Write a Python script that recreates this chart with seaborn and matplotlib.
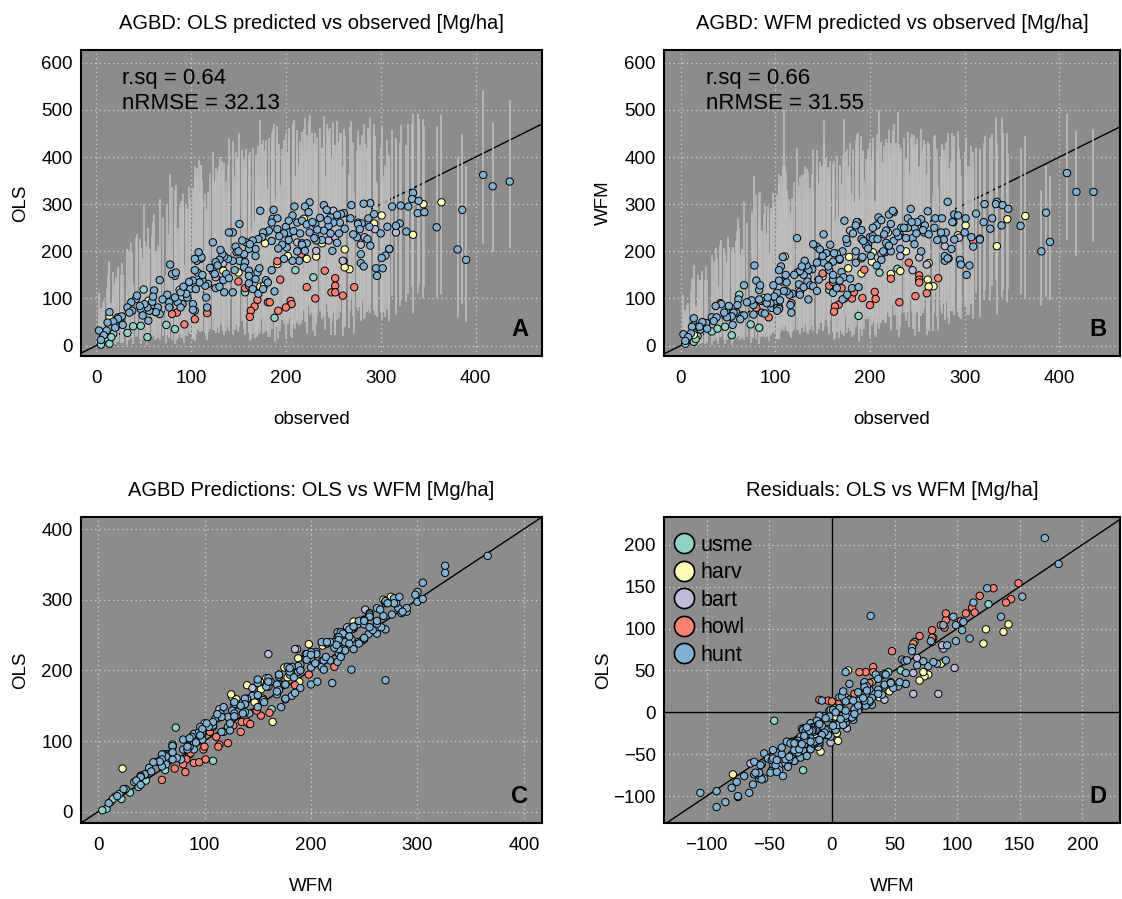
import numpy as np
import pandas as pd
import matplotlib
matplotlib.use("Agg")
import matplotlib.pyplot as plt
from matplotlib.lines import Line2D
import seaborn as sns

# ---------------- data ----------------
sites = ["usme", "harv", "bart", "howl", "hunt"]
site_colors = ["#8DD3C7", "#FFFFB3", "#BEBADA", "#FB8072", "#80B1D3"]

usme_obs = [50, 33, 39, 47, 54, 74, 83, 23, 14, 18, 12, 7, 14, 5, 210, 229, 188, 157, 26, 16, 62]
usme_ols = [119, 27, 41, 42, 18, 44, 35, 60, 52, 25, 14, 21, 4, 2, 160, 145, 59, 113, 49, 18, 72]
usme_wfm = [73, 30, 36, 40, 22, 45, 38, 48, 44, 20, 12, 16, 8, 4, 155, 163, 63, 118, 40, 14, 108]
usme_ols_lo = [24, 2, 4, 4, 1, 6, 4, 8, 6, 2, 1, 2, 0, 0, 36, 30, 8, 22, 6, 1, 12]
usme_ols_hi = [300, 110, 130, 134, 96, 150, 140, 160, 150, 104, 80, 92, 60, 50, 360, 344, 170, 300, 150, 90, 200]
usme_wfm_lo = [14, 2, 4, 4, 1, 6, 4, 6, 6, 2, 1, 1, 0, 0, 36, 34, 10, 24, 4, 1, 20]
usme_wfm_hi = [230, 112, 124, 128, 100, 146, 136, 150, 140, 98, 76, 86, 66, 56, 350, 356, 176, 306, 140, 84, 250]

harv_obs = [345, 364, 301, 293, 334, 262, 261, 267, 262, 238, 232, 222, 202, 191, 219, 203, 178, 150, 134, 110, 88, 92, 173, 177, 55, 14]
harv_ols = [300, 304, 276, 259, 235, 204, 179, 162, 166, 217, 189, 184, 190, 173, 269, 237, 217, 155, 159, 184, 118, 120, 125, 127, 95, 61]
harv_wfm = [268, 275, 255, 234, 211, 175, 140, 126, 125, 200, 158, 152, 178, 153, 240, 198, 188, 147, 130, 189, 101, 100, 100, 164, 70, 23]
harv_ols_lo = [100, 110, 84, 76, 70, 52, 44, 38, 40, 56, 46, 44, 46, 40, 76, 62, 54, 34, 34, 42, 24, 24, 26, 26, 18, 10]
harv_ols_hi = [480, 490, 466, 452, 430, 404, 380, 364, 368, 414, 390, 384, 392, 372, 460, 432, 414, 356, 358, 384, 300, 304, 320, 322, 250, 176]
harv_wfm_lo = [92, 100, 84, 72, 66, 44, 36, 30, 30, 52, 40, 38, 44, 36, 70, 50, 46, 32, 28, 44, 20, 20, 20, 38, 12, 2]
harv_wfm_hi = [450, 444, 440, 424, 406, 370, 340, 320, 322, 392, 352, 346, 372, 348, 430, 390, 380, 340, 324, 382, 280, 278, 286, 356, 210, 104]

bart_obs = [245, 252, 276, 279, 283, 294, 316, 260, 232, 212, 217, 179, 250, 123, 134, 126]
bart_ols = [223, 230, 261, 214, 230, 247, 240, 180, 201, 219, 217, 240, 286, 158, 175, 145]
bart_wfm = [160, 187, 234, 211, 185, 229, 227, 172, 190, 195, 200, 244, 251, 155, 145, 114]
bart_ols_lo = [58, 60, 74, 54, 60, 66, 64, 42, 50, 54, 54, 62, 86, 34, 40, 30]
bart_ols_hi = [418, 426, 456, 412, 428, 444, 436, 380, 402, 416, 414, 436, 472, 356, 374, 344]
bart_wfm_lo = [36, 44, 68, 54, 46, 60, 60, 40, 46, 48, 50, 66, 72, 34, 32, 24]
bart_wfm_hi = [350, 380, 424, 400, 376, 416, 412, 364, 384, 388, 392, 430, 438, 346, 338, 300]

howl_obs = [191, 150, 157, 161, 194, 222, 241, 252, 252, 248, 252, 260, 272, 231, 205, 206, 200, 192, 181, 183,
            170, 167, 163, 162, 117, 104, 93, 309, 216, 85, 80]
howl_ols = [179, 136, 122, 127, 140, 124, 159, 143, 127, 113, 113, 106, 124, 100, 95, 88, 81, 74, 92, 92,
            97, 83, 74, 61, 69, 56, 45, 205, 194, 70, 67]
howl_wfm = [185, 153, 127, 135, 161, 142, 176, 149, 140, 105, 134, 111, 143, 92, 114, 99, 86, 101, 100, 113,
            122, 87, 83, 72, 90, 82, 60, 222, 198, 95, 80]
howl_ols_lo = [42, 28, 26, 26, 30, 26, 34, 30, 26, 22, 22, 20, 26, 20, 18, 16, 14, 14, 18, 18,
               18, 16, 14, 10, 12, 10, 6, 52, 46, 12, 12]
howl_ols_hi = [380, 334, 320, 324, 340, 326, 360, 344, 326, 310, 312, 300, 324, 292, 284, 272, 262, 250, 276, 278,
               282, 264, 248, 226, 220, 196, 170, 404, 394, 210, 200]
howl_wfm_lo = [44, 34, 26, 28, 36, 30, 40, 32, 30, 20, 28, 22, 30, 18, 22, 18, 16, 20, 18, 22,
               24, 16, 16, 12, 16, 14, 10, 56, 48, 18, 14]
howl_wfm_hi = [376, 346, 320, 330, 352, 334, 366, 342, 334, 296, 328, 304, 336, 280, 306, 290, 270, 292, 290, 304,
               316, 272, 266, 244, 246, 230, 196, 410, 386, 246, 224]

hunt_obs = [408, 418, 436, 386, 381, 390, 359, 334, 333, 340,
            339, 346, 329, 321, 312, 320, 316, 327, 307, 300,
            309, 305, 301, 295, 302, 296, 289, 282, 269, 261,
            258, 288, 280, 276, 278, 275, 286, 289, 279, 279,
            282, 240, 243, 247, 254, 257, 250, 245, 240, 247,
            256, 254, 249, 238, 232, 225, 220, 224, 209, 207,
            212, 217, 222, 231, 233, 225, 230, 222, 217, 220,
            212, 214, 200, 203, 203, 198, 203, 201, 196, 192,
            198, 207, 187, 186, 191, 185, 191, 182, 173, 176,
            175, 171, 165, 168, 158, 154, 161, 156, 151, 144,
            140, 147, 148, 151, 157, 156, 161, 170, 172, 179,
            181, 168, 161, 165, 171, 188, 176, 161, 146, 144,
            139, 135, 133, 130, 126, 125, 123, 131, 134, 126,
            130, 135, 137, 140, 144, 116, 118, 115, 112, 107,
            104, 106, 111, 108, 104, 109, 102, 99, 96, 95,
            89, 91, 86, 83, 83, 80, 78, 84, 77, 77,
            102, 104, 117, 102, 89, 105, 67, 61, 59, 65,
            67, 63, 56, 54, 51, 47, 42, 43, 37, 33,
            38, 49, 55, 27, 23, 21, 18, 14, 12, 11,
            3, 150, 162, 168, 185, 193, 208, 215, 228, 236,
            244, 262, 268, 271, 287, 293, 120, 128, 112, 98,
            92, 75, 70, 60, 46, 35, 28, 8, 5, 20,
            185]
hunt_ols = [362, 338, 348, 288, 204, 182, 251, 324, 311, 307,
            281, 283, 295, 297, 295, 259, 254, 242, 252, 238,
            205, 191, 186, 164, 164, 148, 302, 301, 298, 281,
            279, 252, 259, 258, 247, 230, 226, 212, 194, 175,
            168, 298, 288, 272, 277, 261, 261, 254, 244, 238,
            238, 218, 201, 224, 223, 304, 295, 283, 295, 276,
            261, 265, 257, 258, 246, 240, 228, 217, 214, 201,
            200, 180, 252, 265, 240, 238, 224, 208, 214, 206,
            184, 180, 288, 269, 270, 261, 247, 244, 286, 240,
            230, 226, 223, 205, 219, 223, 205, 194, 258, 240,
            240, 210, 198, 180, 177, 166, 159, 155, 164, 139,
            134, 141, 132, 120, 110, 115, 120, 148, 160, 180,
            184, 189, 194, 182, 177, 152, 219, 203, 139, 122,
            125, 113, 152, 143, 113, 102, 131, 127, 139, 155,
            160, 180, 187, 198, 184, 134, 138, 120, 102, 110,
            113, 88, 92, 102, 148, 152, 172, 155, 92, 81,
            88, 74, 81, 76, 81, 120, 139, 117, 93, 81,
            67, 71, 74, 81, 88, 78, 99, 106, 92, 81,
            74, 64, 53, 62, 57, 42, 51, 71, 49, 32,
            32, 200, 215, 190, 222, 232, 243, 238, 262, 271,
            266, 248, 270, 236, 270, 279, 165, 170, 150, 135,
            125, 108, 98, 104, 84, 70, 44, 22, 12, 38,
            160]
hunt_wfm = [366, 326, 326, 282, 200, 220, 254, 305, 300, 298,
            255, 290, 270, 300, 280, 262, 225, 248, 230, 240,
            210, 170, 270, 182, 150, 172, 278, 305, 270, 285,
            255, 262, 240, 270, 225, 240, 205, 225, 180, 190,
            185, 270, 290, 250, 268, 240, 262, 228, 250, 215,
            245, 200, 238, 228, 205, 283, 278, 286, 272, 255,
            266, 244, 258, 238, 250, 222, 232, 200, 218, 212,
            182, 200, 230, 250, 232, 215, 226, 190, 212, 188,
            206, 170, 262, 262, 245, 255, 226, 238, 265, 218,
            226, 200, 195, 182, 214, 196, 178, 170, 236, 210,
            215, 204, 180, 176, 160, 168, 140, 156, 145, 142,
            122, 138, 112, 122, 98, 124, 108, 150, 140, 176,
            162, 160, 170, 150, 158, 130, 228, 180, 136, 108,
            124, 98, 128, 126, 116, 86, 110, 108, 115, 136,
            138, 168, 150, 188, 160, 116, 112, 104, 80, 90,
            95, 90, 70, 98, 118, 138, 170, 128, 86, 66,
            80, 78, 70, 74, 68, 96, 128, 98, 70, 64,
            64, 56, 70, 62, 84, 64, 90, 88, 84, 60,
            60, 60, 44, 48, 50, 34, 40, 58, 40, 26,
            24, 190, 196, 184, 200, 222, 226, 236, 240, 250,
            262, 236, 250, 224, 262, 276, 150, 168, 134, 128,
            102, 96, 92, 86, 70, 52, 36, 18, 10, 40,
            176]
hunt_ols_lo = [215, 198, 208, 88, 60, 50, 100, 140, 124, 130,
               112, 124, 110, 96, 106, 84, 80, 92, 78, 70,
               66, 60, 56, 64, 72, 60, 110, 108, 104, 98,
               100, 90, 94, 86, 82, 80, 72, 70, 64, 52,
               56, 90, 88, 76, 80, 72, 70, 66, 62, 60,
               58, 54, 52, 58, 56, 96, 90, 84, 90, 80,
               72, 74, 70, 72, 66, 64, 60, 56, 54, 50,
               48, 44, 68, 74, 62, 60, 56, 52, 54, 50,
               46, 44, 82, 74, 76, 70, 64, 62, 80, 60,
               56, 54, 52, 48, 50, 52, 46, 44, 66, 58,
               56, 48, 44, 40, 40, 36, 34, 34, 36, 30,
               28, 30, 28, 24, 22, 24, 24, 32, 34, 40,
               40, 42, 44, 40, 38, 32, 50, 46, 30, 26,
               26, 22, 32, 30, 22, 20, 28, 26, 30, 34,
               36, 40, 42, 44, 40, 28, 30, 24, 20, 22,
               22, 16, 18, 20, 30, 32, 38, 32, 18, 16,
               16, 14, 16, 14, 16, 24, 28, 24, 18, 16,
               12, 14, 14, 16, 16, 14, 18, 20, 18, 14,
               14, 12, 10, 10, 10, 8, 8, 12, 8, 4,
               2, 46, 50, 44, 52, 56, 60, 58, 70, 74,
               72, 66, 74, 62, 76, 80, 36, 38, 32, 28,
               26, 22, 20, 20, 14, 12, 6, 2, 1, 4,
               36]
hunt_ols_hi = [540, 473, 521, 449, 400, 380, 466, 491, 470, 480,
               491, 466, 470, 468, 458, 430, 440, 425, 436, 420,
               400, 384, 378, 350, 360, 344, 484, 470, 476, 460,
               452, 438, 446, 440, 426, 414, 420, 398, 386, 366,
               356, 486, 470, 462, 476, 452, 446, 444, 440, 426,
               432, 412, 400, 420, 418, 490, 482, 476, 478, 470,
               458, 454, 446, 450, 440, 434, 430, 416, 410, 398,
               400, 384, 450, 462, 440, 436, 424, 410, 416, 406,
               390, 380, 470, 460, 466, 452, 444, 440, 478, 436,
               428, 424, 420, 404, 416, 414, 404, 396, 452, 434,
               438, 410, 398, 382, 378, 366, 360, 354, 364, 340,
               332, 342, 330, 318, 304, 310, 316, 348, 358, 378,
               384, 388, 392, 380, 376, 350, 410, 400, 336, 320,
               322, 308, 350, 340, 306, 290, 326, 322, 336, 352,
               358, 376, 384, 394, 380, 330, 334, 314, 290, 300,
               306, 240, 250, 264, 330, 336, 364, 340, 236, 220,
               260, 240, 270, 244, 232, 300, 312, 280, 232, 214,
               196, 200, 204, 212, 220, 206, 228, 236, 218, 204,
               196, 186, 170, 176, 166, 146, 156, 180, 150, 120,
               112, 400, 410, 390, 418, 428, 440, 434, 452, 462,
               458, 444, 464, 432, 462, 470, 366, 370, 350, 336,
               322, 300, 270, 262, 226, 200, 150, 96, 80, 130,
               360]
hunt_wfm_lo = [224, 190, 220, 104, 84, 96, 110, 150, 140, 118,
               104, 120, 126, 118, 112, 96, 90, 94, 88, 82,
               70, 64, 84, 70, 66, 56, 122, 116, 112, 96,
               108, 84, 92, 100, 88, 78, 74, 66, 70, 60,
               58, 104, 96, 86, 90, 80, 74, 70, 72, 66,
               70, 62, 70, 60, 64, 100, 92, 86, 88, 84,
               76, 80, 74, 70, 68, 66, 62, 58, 56, 60,
               52, 54, 70, 76, 64, 62, 58, 54, 56, 52,
               56, 48, 80, 78, 76, 72, 68, 64, 82, 62,
               60, 58, 56, 50, 52, 54, 50, 48, 66, 60,
               58, 50, 48, 42, 44, 40, 38, 36, 40, 32,
               30, 32, 30, 28, 26, 28, 26, 34, 36, 40,
               42, 42, 44, 42, 40, 34, 60, 46, 32, 28,
               28, 24, 34, 32, 24, 22, 28, 28, 30, 34,
               36, 40, 42, 46, 42, 30, 30, 26, 22, 24,
               24, 18, 18, 20, 32, 32, 40, 34, 18, 16,
               18, 14, 16, 14, 16, 26, 28, 22, 18, 16,
               12, 12, 14, 14, 16, 14, 18, 18, 16, 14,
               12, 12, 10, 10, 8, 6, 8, 10, 6, 4,
               2, 48, 50, 46, 50, 58, 60, 62, 64, 70,
               74, 64, 70, 60, 74, 80, 34, 38, 30, 28,
               22, 20, 18, 16, 12, 10, 6, 2, 1, 4,
               40]
hunt_wfm_hi = [491, 455, 460, 382, 330, 360, 420, 430, 484, 452,
               484, 407, 448, 444, 420, 430, 416, 440, 424, 410,
               372, 380, 430, 396, 380, 360, 444, 450, 446, 432,
               428, 420, 432, 428, 414, 400, 390, 386, 372, 360,
               364, 454, 440, 446, 460, 436, 428, 420, 426, 410,
               416, 404, 426, 398, 408, 470, 458, 456, 500, 448,
               432, 438, 430, 428, 420, 414, 496, 398, 388, 402,
               380, 390, 432, 440, 420, 416, 402, 394, 396, 386,
               396, 370, 452, 448, 444, 436, 428, 418, 480, 416,
               410, 404, 402, 384, 392, 398, 386, 378, 430, 414,
               418, 390, 380, 478, 364, 354, 344, 342, 350, 330,
               324, 326, 320, 310, 300, 312, 308, 336, 344, 360,
               364, 368, 374, 364, 358, 338, 420, 380, 324, 310,
               312, 298, 334, 328, 302, 284, 314, 310, 320, 336,
               342, 360, 366, 380, 364, 500, 320, 302, 280, 292,
               296, 236, 244, 254, 322, 320, 360, 326, 226, 210,
               250, 236, 266, 236, 224, 296, 304, 268, 222, 204,
               190, 192, 196, 202, 210, 196, 214, 224, 206, 192,
               186, 178, 164, 166, 158, 140, 150, 170, 144, 116,
               108, 384, 392, 378, 394, 414, 420, 424, 430, 440,
               448, 428, 444, 416, 450, 456, 346, 362, 330, 324,
               296, 284, 260, 244, 208, 180, 140, 90, 76, 132,
               366]

stats_ols = ["r.sq = 0.64", "nRMSE = 32.13"]
stats_wfm = ["r.sq = 0.66", "nRMSE = 31.55"]

# ---------------- table ----------------
site_data = {
    "usme": (usme_obs, usme_ols, usme_wfm, usme_ols_lo, usme_ols_hi, usme_wfm_lo, usme_wfm_hi),
    "harv": (harv_obs, harv_ols, harv_wfm, harv_ols_lo, harv_ols_hi, harv_wfm_lo, harv_wfm_hi),
    "bart": (bart_obs, bart_ols, bart_wfm, bart_ols_lo, bart_ols_hi, bart_wfm_lo, bart_wfm_hi),
    "howl": (howl_obs, howl_ols, howl_wfm, howl_ols_lo, howl_ols_hi, howl_wfm_lo, howl_wfm_hi),
    "hunt": (hunt_obs, hunt_ols, hunt_wfm, hunt_ols_lo, hunt_ols_hi, hunt_wfm_lo, hunt_wfm_hi),
}
cols = ["obs", "ols", "wfm", "ols_lo", "ols_hi", "wfm_lo", "wfm_hi"]
frames = []
for s in sites:
    arrs = site_data[s]
    lens = [len(a) for a in arrs]
    if len(set(lens)) != 1:
        raise ValueError(f"{s}: lengths {lens}")
    d = pd.DataFrame(dict(zip(cols, arrs)))
    d["site"] = s
    frames.append(d)
df = pd.concat(frames, ignore_index=True)
df["res_ols"] = df["obs"] - df["ols"]
df["res_wfm"] = df["obs"] - df["wfm"]

palette = dict(zip(sites, site_colors))

# ---------------- figure ----------------
sns.set_style("white")
plt.rcParams["font.family"] = ["Liberation Sans", "DejaVu Sans"]
plt.rcParams["axes.unicode_minus"] = True
for k in ["text.color", "axes.labelcolor", "xtick.color", "ytick.color"]:
    plt.rcParams[k] = "black"

W, H = 1122, 899
fig = plt.figure(figsize=(W / 100, H / 100), dpi=100)
fig.patch.set_facecolor("white")

def px_axes(l, t, r, b):
    return fig.add_axes([l / W, 1 - b / H, (r - l) / W, (b - t) / H])

axA = px_axes(81, 50, 542, 356)
axB = px_axes(664, 50, 1120, 356)
axC = px_axes(81, 517, 542, 823)
axD = px_axes(664, 517, 1120, 823)

def style(ax, xlim, ylim, xt, yt, title, xlabel, ylabel):
    ax.set_facecolor("#8C8C8C")
    ax.set_xlim(xlim)
    ax.set_ylim(ylim)
    ax.set_xticks(xt)
    ax.set_yticks(yt)
    ax.grid(True, color="#D4D4D4", linestyle=(0, (1, 2.6)), linewidth=0.9)
    ax.set_axisbelow(True)
    ax.tick_params(axis="both", length=0, labelsize=13.5, colors="black")
    ax.tick_params(axis="x", pad=10)
    ax.tick_params(axis="y", pad=6)
    for sp in ax.spines.values():
        sp.set_visible(True)
        sp.set_color("black")
        sp.set_linewidth(1.5)
    ax.set_title(title, fontsize=14.5, pad=15, color="black")
    ax.set_xlabel(xlabel, fontsize=13.5, color="black")
    ax.set_ylabel(ylabel, fontsize=13.5, color="black")
    ax.xaxis.set_label_coords(0.5, -0.18)
    w = ax.get_position().width * W
    ax.yaxis.set_label_coords(-52 / w, 0.5)

def points(ax, x, y):
    sns.scatterplot(data=df, x=x, y=y, hue="site", palette=palette, hue_order=sites,
                    s=28, edgecolor="black", linewidth=0.7, legend=False, ax=ax, zorder=3)

BAR = "#BDBDBD"

# A
style(axA, (-16, 470), (-22, 627), range(0, 401, 100), range(0, 601, 100),
      "AGBD: OLS predicted vs observed [Mg/ha]", "observed", "OLS")
axA.axline((0, 0), slope=1, color="black", lw=1.0, zorder=1.5)
axA.vlines(df["obs"], df["ols_lo"], df["ols_hi"], color=BAR, lw=1.2, zorder=2)
points(axA, "obs", "ols")

# B
style(axB, (-17.5, 464), (-22, 627), range(0, 401, 100), range(0, 601, 100),
      "AGBD: WFM predicted vs observed [Mg/ha]", "observed", "WFM")
axB.axline((0, 0), slope=1, color="black", lw=1.0, zorder=1.5)
axB.vlines(df["obs"], df["wfm_lo"], df["wfm_hi"], color=BAR, lw=1.2, zorder=2)
points(axB, "obs", "wfm")

# C
style(axC, (-16, 417), (-16, 417), range(0, 401, 100), range(0, 401, 100),
      "AGBD Predictions: OLS vs WFM [Mg/ha]", "WFM", "OLS")
axC.axline((0, 0), slope=1, color="black", lw=1.0, zorder=1.5)
points(axC, "wfm", "ols")

# D
style(axD, (-134, 230), (-132, 233), range(-100, 201, 50), range(-100, 201, 50),
      "Residuals: OLS vs WFM [Mg/ha]", "WFM", "OLS")
axD.axline((0, 0), slope=1, color="black", lw=1.0, zorder=1.5)
axD.axhline(0, color="black", lw=1.0, zorder=1.5)
axD.axvline(0, color="black", lw=1.0, zorder=1.5)
points(axD, "res_wfm", "res_ols")

# annotations
for ax, st, x0 in [(axA, stats_ols, 0.089), (axB, stats_wfm, 0.092)]:
    ax.text(x0, 0.908, st[0], transform=ax.transAxes, fontsize=16, ha="left", va="center", color="black")
    ax.text(x0, 0.824, st[1], transform=ax.transAxes, fontsize=16, ha="left", va="center", color="black")

for ax, letter in [(axA, "A"), (axB, "B"), (axC, "C"), (axD, "D")]:
    w = ax.get_position().width * W
    ax.text(1 - 22 / w, 0.088, letter, transform=ax.transAxes, fontsize=17, color="black",
            fontweight="bold", ha="center", va="center", zorder=5)

handles = [Line2D([], [], marker="o", linestyle="none", markersize=14.5,
                  markerfacecolor=c, markeredgecolor="black", markeredgewidth=1.2)
           for c in site_colors]
leg = axD.legend(handles, sites, loc="upper left", bbox_to_anchor=(0.003, 0.963),
                 frameon=False, fontsize=15.5,
                 handletextpad=0.25, labelspacing=0.3, borderaxespad=0.0, handlelength=1.1,
                 borderpad=0.3)
for t in leg.get_texts():
    t.set_color("black")

fig.savefig("out.png", dpi=100, facecolor="white")
